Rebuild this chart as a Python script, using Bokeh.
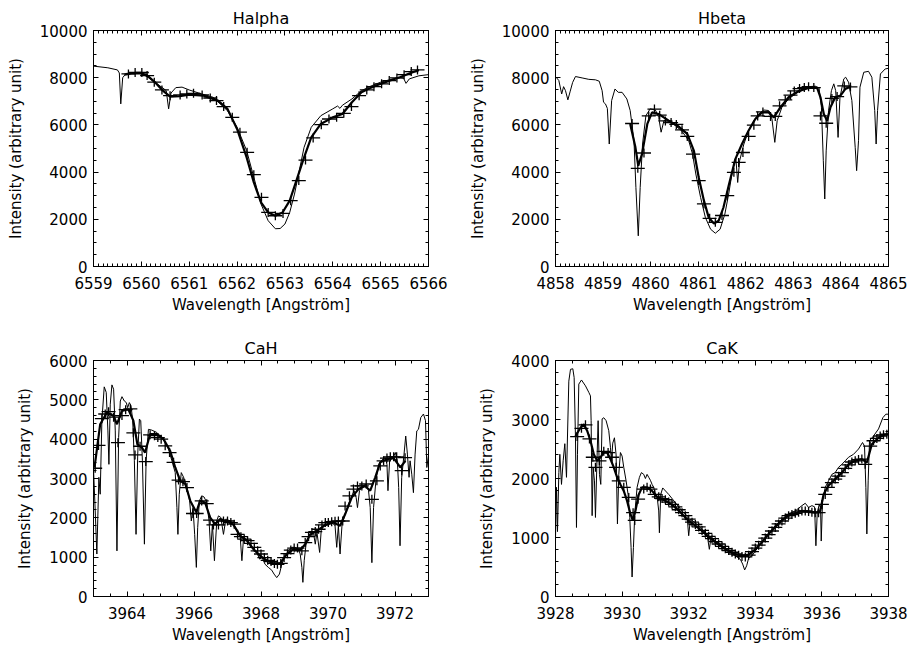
import math
from bokeh.plotting import figure
from bokeh.models import Range1d, LinearAxis, FixedTicker, CustomJSTickFormatter
from bokeh.layouts import column, row
from bokeh.embed import file_html
from bokeh.resources import INLINE

FONT = "DejaVu Sans"

# ---------------- Halpha ----------------
HA_ATLAS_WL = [6559.0, 6559.3, 6559.5, 6559.54, 6559.57, 6559.61, 6559.68, 6559.8, 6560.0, 6560.15,
               6560.3, 6560.45, 6560.52, 6560.57, 6560.62, 6560.72, 6560.85, 6561.0, 6561.2, 6561.5,
               6561.8, 6562.0, 6562.2, 6562.35, 6562.5, 6562.65, 6562.8, 6562.9, 6563.0, 6563.1,
               6563.2, 6563.3, 6563.4, 6563.55, 6563.75, 6564.0, 6564.1, 6564.15, 6564.2, 6564.4,
               6564.6, 6564.8, 6565.0, 6565.2, 6565.4, 6565.48, 6565.53, 6565.6, 6565.8, 6566.0]
HA_ATLAS_I = [8490, 8420, 8330, 8200, 6890, 8000, 8180, 8200, 8180, 8000,
              7780, 7560, 7450, 6680, 7350, 7580, 7600, 7480, 7350, 7170,
              6600, 5900, 4910, 3780, 2645, 1940, 1600, 1610, 1800, 2290,
              3070, 4060, 5050, 5900, 6390, 6680, 6800, 6700, 6830, 7100,
              7450, 7650, 7810, 7920, 8000, 7980, 7760, 7950, 8080, 8130]
HA_CONV_WL = [6559.65, 6559.8, 6559.95, 6560.1, 6560.3, 6560.45, 6560.6, 6560.8, 6561.0, 6561.3,
              6561.6, 6561.8, 6562.0, 6562.2, 6562.35, 6562.5, 6562.65, 6562.8, 6562.95, 6563.1,
              6563.25, 6563.4, 6563.55, 6563.75, 6564.0, 6564.2, 6564.4, 6564.6, 6564.8, 6565.0,
              6565.2, 6565.4, 6565.6, 6565.8]
HA_CONV_I = [8130, 8180, 8190, 8130, 7780, 7450, 7200, 7220, 7280, 7240,
             7030, 6680, 5830, 4625, 3560, 2715, 2290, 2150, 2290, 2790,
             3705, 4625, 5470, 6040, 6320, 6460, 6960, 7380, 7580, 7740,
             7880, 8020, 8180, 8330]
HA_MEAS_WL = [6559.73, 6559.87, 6560.01, 6560.12, 6560.27, 6560.43, 6560.6, 6560.81, 6560.95, 6561.09,
              6561.27, 6561.44, 6561.57, 6561.72, 6561.9, 6562.06, 6562.21, 6562.35, 6562.51, 6562.65,
              6562.8, 6562.96, 6563.12, 6563.29, 6563.43, 6563.59, 6563.76, 6563.92, 6564.08, 6564.23,
              6564.39, 6564.55, 6564.71, 6564.86, 6565.02, 6565.18, 6565.34, 6565.49, 6565.64, 6565.77]
HA_MEAS_I = [8160, 8220, 8220, 8090, 7810, 7480, 7240, 7270, 7310, 7340,
             7270, 7140, 7030, 6775, 6320, 5690, 4840, 3890, 2930, 2290,
             2150, 2250, 2790, 3640, 4510, 5450, 6010, 6250, 6320, 6490,
             6775, 7240, 7480, 7620, 7740, 7880, 7990, 8130, 8260, 8330]

# ---------------- Hbeta ----------------
HB_ATLAS_WL = [4858.0, 4858.07, 4858.13, 4858.17, 4858.21, 4858.26, 4858.31, 4858.36, 4858.42, 4858.56,
               4858.7, 4858.84, 4858.92, 4858.98, 4859.01, 4859.05, 4859.09, 4859.13, 4859.18, 4859.25,
               4859.32, 4859.4, 4859.5, 4859.57, 4859.65, 4859.69, 4859.74, 4859.78, 4859.83, 4859.9,
               4859.99, 4860.1, 4860.17, 4860.22, 4860.28, 4860.38, 4860.52, 4860.66, 4860.8, 4860.88,
               4860.95, 4861.05, 4861.15, 4861.26, 4861.36, 4861.46, 4861.56, 4861.64, 4861.72, 4861.79,
               4861.83, 4861.87, 4861.96, 4862.06, 4862.17, 4862.27, 4862.38, 4862.48, 4862.55, 4862.61,
               4862.66, 4862.76, 4862.9, 4863.04, 4863.18, 4863.32, 4863.46, 4863.54, 4863.59, 4863.63,
               4863.66, 4863.69, 4863.74, 4863.8, 4863.85, 4863.89, 4863.94, 4863.98, 4864.06, 4864.1,
               4864.16, 4864.23, 4864.3, 4864.33, 4864.37, 4864.4, 4864.48, 4864.58, 4864.65, 4864.71,
               4864.74, 4864.77, 4864.83, 4864.93, 4865.0]
HB_ATLAS_I = [8050, 7880, 7310, 7620, 7450, 7060, 7430, 7800, 8050, 7990,
              7930, 7910, 7850, 7450, 6960, 6890, 6700, 5190, 7030, 7520,
              7380, 7380, 7100, 6610, 5330, 3350, 1300, 3350, 5190, 6390,
              6680, 6630, 6320, 5690, 6180, 6150, 5970, 5730, 5330, 4770,
              3920, 2930, 2080, 1580, 1410, 1580, 2220, 3070, 4060, 4620,
              3560, 4480, 5190, 5760, 6180, 6460, 6630, 6610, 6250, 5260,
              6180, 6750, 7100, 7310, 7480, 7620, 7640, 7570, 6750, 4480,
              2860, 4900, 6610, 7450, 7740, 7450, 5470, 7170, 7950, 8020,
              7810, 7030, 5050, 4060, 5330, 7600, 8230, 8270, 8020, 6610,
              5190, 6610, 8160, 8370, 8400]
HB_CONV_WL = [4859.57, 4859.68, 4859.74, 4859.82, 4859.93, 4860.03, 4860.17, 4860.38, 4860.59, 4860.77,
              4860.91, 4861.01, 4861.12, 4861.22, 4861.33, 4861.43, 4861.53, 4861.64, 4861.78, 4861.92,
              4862.06, 4862.2, 4862.34, 4862.48, 4862.59, 4862.73, 4862.9, 4863.11, 4863.32, 4863.5,
              4863.57, 4863.64, 4863.71, 4863.78, 4863.88, 4863.99, 4864.09, 4864.2]
HB_CONV_I = [6040, 5050, 4270, 4770, 6040, 6530, 6460, 6180, 5930, 5620,
             4900, 3780, 2790, 2080, 1820, 1940, 2500, 3420, 4550, 5190,
             5760, 6250, 6530, 6530, 6320, 6750, 7170, 7430, 7570, 7570,
             7170, 6460, 6180, 6750, 7170, 7240, 7520, 7620]
HB_MEAS_WL = [4859.61, 4859.73, 4859.86, 4859.96, 4860.08, 4860.19, 4860.31, 4860.43, 4860.54, 4860.66,
              4860.77, 4860.89, 4861.01, 4861.12, 4861.24, 4861.36, 4861.5, 4861.61, 4861.75, 4861.85,
              4861.94, 4862.06, 4862.17, 4862.25, 4862.36, 4862.52, 4862.62, 4862.71, 4862.83, 4862.94,
              4863.02, 4863.13, 4863.23, 4863.32, 4863.43, 4863.57, 4863.69, 4863.81, 4863.92, 4864.07,
              4864.2]
HB_MEAS_I = [6060, 4160, 4810, 6380, 6670, 6410, 6170, 6100, 6020, 5790,
             5510, 4760, 3640, 2650, 2040, 1870, 2160, 3000, 3990, 4410,
             4830, 5510, 5990, 6380, 6550, 6360, 6360, 6810, 7060, 7260,
             7440, 7540, 7580, 7620, 7580, 6380, 6070, 7120, 7200, 7650,
             7610]

# ---------------- CaH ----------------
CAH_ATLAS_WL = [3963.0, 3963.05, 3963.1, 3963.16, 3963.2, 3963.25, 3963.32, 3963.38, 3963.43, 3963.46,
                3963.5, 3963.55, 3963.6, 3963.65, 3963.7, 3963.75, 3963.8, 3963.85, 3963.92, 3963.98,
                3964.02, 3964.07, 3964.12, 3964.17, 3964.22, 3964.27, 3964.32, 3964.37, 3964.41, 3964.46,
                3964.52, 3964.57, 3964.64, 3964.74, 3964.89, 3965.04, 3965.14, 3965.24, 3965.34, 3965.44,
                3965.49, 3965.52, 3965.56, 3965.62, 3965.69, 3965.79, 3965.87, 3965.92, 3965.97, 3966.02,
                3966.07, 3966.11, 3966.16, 3966.23, 3966.3, 3966.38, 3966.45, 3966.5, 3966.55, 3966.61,
                3966.68, 3966.73, 3966.8, 3966.88, 3966.95, 3967.08, 3967.18, 3967.28, 3967.38, 3967.43,
                3967.48, 3967.58, 3967.68, 3967.78, 3967.88, 3967.96, 3968.03, 3968.12, 3968.22, 3968.32,
                3968.39, 3968.47, 3968.55, 3968.62, 3968.72, 3968.82, 3968.92, 3969.02, 3969.12, 3969.17,
                3969.22, 3969.25, 3969.29, 3969.35, 3969.42, 3969.49, 3969.57, 3969.62, 3969.67, 3969.75,
                3969.8, 3969.89, 3970.01, 3970.14, 3970.21, 3970.26, 3970.31, 3970.36, 3970.42, 3970.51,
                3970.61, 3970.71, 3970.78, 3970.84, 3970.88, 3970.94, 3971.04, 3971.14, 3971.21, 3971.26,
                3971.31, 3971.36, 3971.43, 3971.51, 3971.61, 3971.71, 3971.76, 3971.79, 3971.84, 3971.94,
                3972.01, 3972.07, 3972.11, 3972.15, 3972.2, 3972.27, 3972.32, 3972.37, 3972.42, 3972.45,
                3972.5, 3972.55, 3972.6, 3972.65, 3972.7, 3972.77, 3972.85, 3972.91, 3972.95, 3973.0]
CAH_ATLAS_I = [3250, 2200, 1080, 3030, 2600, 4470, 5330, 5190, 4210, 3360,
               4890, 5380, 5270, 4210, 1160, 4040, 4970, 5080, 4970, 4930,
               4800, 4930, 4850, 4470, 3450, 1580, 3620, 4510, 4470, 3450,
               1330, 3450, 4250, 4230, 4170, 4040, 3920, 3750, 3450, 3150,
               2260, 1580, 2600, 3150, 3030, 2770, 2430, 1920, 2260, 1580,
               740, 1750, 2430, 2560, 2530, 2390, 1920, 1160, 1840, 910,
               1920, 2050, 2010, 1580, 1970, 1920, 1840, 1670, 1500, 910,
               1500, 1430, 1330, 1200, 1120, 950, 1000, 820, 740, 670,
               570, 480, 570, 820, 1030, 1160, 1250, 1250, 1200, 1080,
               740, 360, 910, 1370, 1500, 1580, 1600, 1330, 1630, 1120,
               1710, 1800, 1840, 1860, 1800, 1250, 1800, 1080, 1840, 2090,
               2350, 2560, 2690, 2520, 2260, 2690, 2810, 2860, 2690, 2260,
               860, 2260, 2940, 3360, 3470, 3530, 3360, 2690, 3450, 3530,
               3660, 3450, 2770, 1290, 3030, 3620, 4080, 3620, 3030, 3450,
               3110, 2640, 3620, 4210, 4250, 4550, 4640, 4470, 3280, 3600]
CAH_CONV_WL = [3963.03, 3963.2, 3963.4, 3963.6, 3963.7, 3963.85, 3964.04, 3964.19, 3964.31, 3964.44,
               3964.54, 3964.69, 3964.89, 3965.09, 3965.29, 3965.44, 3965.59, 3965.74, 3965.89, 3966.07,
               3966.18, 3966.33, 3966.48, 3966.63, 3966.78, 3966.97, 3967.18, 3967.38, 3967.58, 3967.78,
               3967.98, 3968.17, 3968.37, 3968.57, 3968.77, 3968.97, 3969.17, 3969.32, 3969.47, 3969.67,
               3969.92, 3970.16, 3970.36, 3970.51, 3970.71, 3970.91, 3971.11, 3971.26, 3971.41, 3971.56,
               3971.76, 3971.96, 3972.16, 3972.31]
CAH_CONV_I = [3280, 4380, 4680, 4590, 4380, 4720, 4760, 4470, 3870, 3790,
              3660, 4130, 4130, 4000, 3700, 3280, 2940, 2860, 2430, 2140,
              2430, 2390, 2010, 1840, 1970, 1920, 1820, 1540, 1420, 1200,
              1030, 920, 840, 840, 1080, 1200, 1180, 1330, 1580, 1670,
              1820, 1880, 1800, 2090, 2520, 2730, 2810, 2690, 3030, 3410,
              3490, 3520, 3280, 3450]
CAH_MEAS_WL = [3963.05, 3963.15, 3963.25, 3963.35, 3963.45, 3963.6, 3963.73, 3963.85, 3963.96, 3964.1,
               3964.19, 3964.24, 3964.39, 3964.56, 3964.69, 3964.82, 3964.92, 3965.02, 3965.14, 3965.27,
               3965.39, 3965.54, 3965.67, 3965.79, 3965.97, 3966.08, 3966.23, 3966.38, 3966.48, 3966.58,
               3966.73, 3966.88, 3967.0, 3967.1, 3967.2, 3967.3, 3967.4, 3967.5, 3967.6, 3967.7,
               3967.8, 3967.9, 3968.0, 3968.1, 3968.2, 3968.3, 3968.4, 3968.49, 3968.59, 3968.69,
               3968.79, 3968.89, 3968.99, 3969.09, 3969.22, 3969.32, 3969.42, 3969.52, 3969.62, 3969.72,
               3969.82, 3969.92, 3970.01, 3970.11, 3970.21, 3970.31, 3970.44, 3970.51, 3970.64, 3970.76,
               3970.88, 3971.01, 3971.14, 3971.31, 3971.46, 3971.56, 3971.66, 3971.76, 3971.86, 3971.96,
               3972.05, 3972.2, 3972.3]
CAH_MEAS_I = [3260, 3840, 4520, 4640, 4700, 4560, 3910, 4600, 4750, 4770,
              4160, 3600, 3820, 3430, 4110, 4090, 4040, 4000, 3830, 3660,
              3410, 2960, 2920, 2770, 2110, 2110, 2430, 2360, 1940, 1820,
              1820, 1920, 1920, 1880, 1840, 1580, 1520, 1460, 1420, 1350,
              1250, 1160, 1080, 990, 920, 890, 840, 820, 840, 990,
              1090, 1180, 1230, 1230, 1160, 1370, 1520, 1630, 1650, 1710,
              1820, 1880, 1880, 1900, 1910, 1920, 1920, 2300, 2560, 2730,
              2810, 2810, 2860, 2470, 2940, 3320, 3450, 3520, 3550, 3550,
              3550, 3200, 3530]

# ---------------- CaK ----------------
CAK_ATLAS_WL = [3928.0, 3928.03, 3928.06, 3928.1, 3928.13, 3928.18, 3928.23, 3928.28, 3928.33, 3928.4,
                3928.45, 3928.52, 3928.56, 3928.6, 3928.63, 3928.66, 3928.7, 3928.78, 3928.9, 3929.0,
                3929.05, 3929.07, 3929.1, 3929.13, 3929.17, 3929.2, 3929.24, 3929.28, 3929.32, 3929.36,
                3929.4, 3929.45, 3929.52, 3929.6, 3929.65, 3929.68, 3929.72, 3929.77, 3929.82, 3929.86,
                3929.9, 3929.95, 3930.0, 3930.05, 3930.12, 3930.18, 3930.23, 3930.27, 3930.3, 3930.34,
                3930.38, 3930.45, 3930.52, 3930.58, 3930.65, 3930.7, 3930.75, 3930.8, 3930.85, 3930.9,
                3930.95, 3931.0, 3931.05, 3931.1, 3931.12, 3931.16, 3931.22, 3931.4, 3931.6, 3931.8,
                3931.95, 3932.0, 3932.05, 3932.2, 3932.4, 3932.55, 3932.62, 3932.67, 3932.85, 3933.0,
                3933.2, 3933.4, 3933.55, 3933.62, 3933.68, 3933.74, 3933.8, 3933.9, 3934.0, 3934.2,
                3934.4, 3934.6, 3934.8, 3935.0, 3935.2, 3935.4, 3935.5, 3935.6, 3935.7, 3935.78,
                3935.82, 3935.86, 3935.92, 3935.96, 3935.98, 3936.02, 3936.1, 3936.2, 3936.3, 3936.4,
                3936.5, 3936.6, 3936.7, 3936.8, 3936.95, 3937.1, 3937.22, 3937.28, 3937.32, 3937.35,
                3937.39, 3937.43, 3937.55, 3937.7, 3937.83, 3937.92, 3938.0]
CAK_ATLAS_I = [1000, 1850, 1100, 2100, 2410, 1900, 2300, 2590, 2020, 3650,
               3850, 3860, 3710, 2700, 1170, 2410, 3600, 3670, 3570, 3460,
               3400, 2980, 1370, 2190, 1960, 1340, 2200, 2980, 2070, 1900,
               3010, 3030, 2980, 2810, 2530, 2300, 2600, 2690, 2400, 1230,
               2070, 2440, 2380, 2190, 1960, 1730, 1340, 830, 330, 830,
               1400, 1850, 2020, 2100, 2070, 2000, 2070, 2020, 1970, 1900,
               1850, 1730, 1700, 1450, 1080, 1730, 1840, 1730, 1590, 1450,
               1370, 1030, 1310, 1250, 1140, 1060, 800, 1000, 920, 860,
               770, 690, 630, 550, 450, 520, 650, 690, 770, 920,
               1060, 1200, 1310, 1400, 1450, 1540, 1580, 1510, 1540, 1520,
               860, 1420, 1560, 1500, 940, 1620, 1850, 1960, 2070, 2100,
               2190, 2240, 2300, 2360, 2410, 2500, 2610, 2550, 1850, 1060,
               1960, 2640, 2720, 2840, 3030, 3090, 3090]
CAK_CONV_WL = [3928.6, 3928.75, 3928.85, 3928.95, 3929.05, 3929.15, 3929.25, 3929.35, 3929.45, 3929.55,
               3929.65, 3929.75, 3929.85, 3929.95, 3930.05, 3930.15, 3930.25, 3930.32, 3930.4, 3930.5,
               3930.6, 3930.75, 3930.9, 3931.05, 3931.2, 3931.4, 3931.6, 3931.8, 3932.0, 3932.2,
               3932.4, 3932.6, 3932.8, 3933.0, 3933.2, 3933.4, 3933.6, 3933.8, 3934.0, 3934.2,
               3934.4, 3934.6, 3934.8, 3935.0, 3935.2, 3935.4, 3935.6, 3935.8, 3935.95, 3936.05,
               3936.2, 3936.4, 3936.6, 3936.8, 3937.0, 3937.2, 3937.35, 3937.5, 3937.7, 3937.9,
               3938.0]
CAK_CONV_I = [2720, 2860, 2920, 2810, 2640, 2410, 2300, 2360, 2440, 2440,
              2330, 2190, 2020, 1900, 1790, 1620, 1400, 1290, 1450, 1730,
              1850, 1850, 1790, 1690, 1650, 1590, 1510, 1400, 1280, 1200,
              1110, 1010, 920, 840, 770, 720, 690, 710, 800, 920,
              1060, 1180, 1290, 1370, 1410, 1450, 1440, 1420, 1450, 1730,
              1880, 1990, 2100, 2240, 2300, 2330, 2270, 2580, 2690, 2750,
              2750]
CAK_MEAS_WL = [3928.65, 3928.78, 3928.9, 3929.02, 3929.12, 3929.2, 3929.32, 3929.45, 3929.58, 3929.7,
               3929.82, 3929.9, 3930.05, 3930.2, 3930.33, 3930.38, 3930.48, 3930.65, 3930.75, 3930.85,
               3930.98, 3931.1, 3931.2, 3931.3, 3931.4, 3931.5, 3931.6, 3931.7, 3931.8, 3931.9,
               3932.0, 3932.1, 3932.2, 3932.3, 3932.4, 3932.5, 3932.6, 3932.7, 3932.8, 3932.9,
               3933.0, 3933.1, 3933.2, 3933.3, 3933.4, 3933.5, 3933.6, 3933.7, 3933.8, 3933.9,
               3934.0, 3934.1, 3934.2, 3934.3, 3934.4, 3934.5, 3934.6, 3934.7, 3934.8, 3934.9,
               3935.0, 3935.1, 3935.2, 3935.3, 3935.4, 3935.5, 3935.6, 3935.7, 3935.8, 3935.9,
               3936.0, 3936.1, 3936.18, 3936.3, 3936.4, 3936.5, 3936.6, 3936.7, 3936.8, 3936.9,
               3937.0, 3937.1, 3937.2, 3937.3, 3937.45, 3937.55, 3937.65, 3937.75, 3937.85, 3937.95]
CAK_MEAS_I = [2710, 2850, 2910, 2670, 2360, 2190, 2300, 2460, 2440, 2360,
              2190, 1960, 1850, 1680, 1420, 1290, 1650, 1820, 1850, 1820,
              1730, 1690, 1660, 1640, 1600, 1560, 1520, 1470, 1420, 1370,
              1310, 1260, 1220, 1180, 1120, 1070, 1020, 980, 930, 890,
              850, 810, 780, 750, 720, 700, 680, 670, 700, 760,
              820, 870, 930, 990, 1050, 1110, 1170, 1230, 1280, 1330,
              1370, 1390, 1410, 1430, 1450, 1450, 1440, 1430, 1420, 1420,
              1560, 1730, 1850, 1930, 1990, 2040, 2100, 2170, 2230, 2280,
              2300, 2320, 2330, 2240, 2550, 2640, 2680, 2720, 2740, 2750]

# tick values
HA_XTICKS = [6559, 6560, 6561, 6562, 6563, 6564, 6565, 6566]
HB_XTICKS = [4858, 4859, 4860, 4861, 4862, 4863, 4864, 4865]
CAH_XTICKS = [3964, 3966, 3968, 3970, 3972]
CAK_XTICKS = [3928, 3930, 3932, 3934, 3936, 3938]
H_YTICKS = [0, 2000, 4000, 6000, 8000, 10000]
CAH_YTICKS = [0, 1000, 2000, 3000, 4000, 5000, 6000]
CAK_YTICKS = [0, 1000, 2000, 3000, 4000]


def minor(lo, hi, step):
    n = int(round((hi - lo) / step))
    return [round(lo + i * step, 4) for i in range(n + 1)]


def check(a, b, name):
    if len(a) != len(b):
        raise ValueError("%s: %d vs %d" % (name, len(a), len(b)))


def style_axis(ax, labels=True):
    ax.axis_line_color = "black"
    ax.axis_line_width = 1
    ax.major_tick_in = 5
    ax.major_tick_out = 0
    ax.minor_tick_in = 3
    ax.minor_tick_out = 0
    ax.major_tick_line_color = "black"
    ax.minor_tick_line_color = "black"
    if labels:
        ax.major_label_text_font = FONT
        ax.major_label_text_font_size = "15px"
        ax.major_label_text_color = "black"
        ax.axis_label_text_font = FONT
        ax.axis_label_text_font_size = "15px"
        ax.axis_label_text_font_style = "normal"
        ax.axis_label_text_color = "black"
    else:
        ax.major_label_text_font_size = "0px"
        ax.major_label_standoff = 0
        ax.formatter = CustomJSTickFormatter(code="return ''")


def panel(title, xr, yr, xt, xm, yt, ym, atlas, conv, meas, w, h, bl, br, bt, bb):
    p = figure(width=w, height=h, x_range=Range1d(*xr), y_range=Range1d(*yr),
               output_backend="svg", toolbar_location=None, title=title,
               min_border_left=bl, min_border_right=br, min_border_top=bt, min_border_bottom=bb)
    p.title.align = "center"
    p.title.text_font = FONT
    p.title.text_font_size = "16px"
    p.title.text_font_style = "normal"
    p.title.text_color = "black"
    p.title.standoff = 5
    p.grid.visible = False
    p.outline_line_color = "black"
    xtick = FixedTicker(ticks=xt, minor_ticks=xm)
    ytick = FixedTicker(ticks=yt, minor_ticks=ym)
    p.xaxis.ticker = xtick
    p.yaxis.ticker = ytick
    for ax in p.xaxis:
        style_axis(ax)
        ax.axis_label = "Wavelength [Angström]"
        ax.major_label_standoff = 10
        ax.axis_label_standoff = 4
    for ax in p.yaxis:
        style_axis(ax)
        ax.axis_label = "Intensity (arbitrary unit)"
        ax.major_label_standoff = 6
        ax.axis_label_standoff = 12
    top = LinearAxis(ticker=xtick)
    style_axis(top, labels=False)
    p.add_layout(top, "above")
    right = LinearAxis(ticker=ytick)
    style_axis(right, labels=False)
    p.add_layout(right, "right")

    (ax_, ay_), (cx_, cy_), (mx_, my_) = atlas, conv, meas
    check(ax_, ay_, title + " atlas")
    check(cx_, cy_, title + " conv")
    check(mx_, my_, title + " meas")
    p.line(ax_, ay_, line_color="black", line_width=1)
    p.line(cx_, cy_, line_color="black", line_width=2.2)
    p.scatter(mx_, my_, marker="dash", size=14, line_color="black", line_width=1.3)
    p.scatter(mx_, my_, marker="dash", size=9, angle=math.pi / 2, line_color="black", line_width=1.3)
    return p


p1 = panel("Halpha", (6559, 6566), (0, 10000), HA_XTICKS, minor(6559, 6566, 0.1), H_YTICKS, minor(0, 10000, 500),
           (HA_ATLAS_WL, HA_ATLAS_I), (HA_CONV_WL, HA_CONV_I), (HA_MEAS_WL, HA_MEAS_I),
           455, 330, 93, 27, 30, 64)
p2 = panel("Hbeta", (4858, 4865), (0, 10000), HB_XTICKS, minor(4858, 4865, 0.1), H_YTICKS, minor(0, 10000, 500),
           (HB_ATLAS_WL, HB_ATLAS_I), (HB_CONV_WL, HB_CONV_I), (HB_MEAS_WL, HB_MEAS_I),
           456, 330, 100, 23, 30, 64)
p3 = panel("CaH", (3963, 3973), (0, 6000), CAH_XTICKS, minor(3963, 3973, 0.5), CAH_YTICKS, minor(0, 6000, 200),
           (CAH_ATLAS_WL, CAH_ATLAS_I), (CAH_CONV_WL, CAH_CONV_I), (CAH_MEAS_WL, CAH_MEAS_I),
           455, 318, 93, 27, 30, 52)
p4 = panel("CaK", (3928, 3938), (0, 4000), CAK_XTICKS, minor(3928, 3938, 0.5), CAK_YTICKS, minor(0, 4000, 200),
           (CAK_ATLAS_WL, CAK_ATLAS_I), (CAK_CONV_WL, CAK_CONV_I), (CAK_MEAS_WL, CAK_MEAS_I),
           456, 318, 100, 23, 30, 52)

layout = column(row(p1, p2), row(p3, p4))
open("out.html", "w").write(file_html(layout, INLINE))
